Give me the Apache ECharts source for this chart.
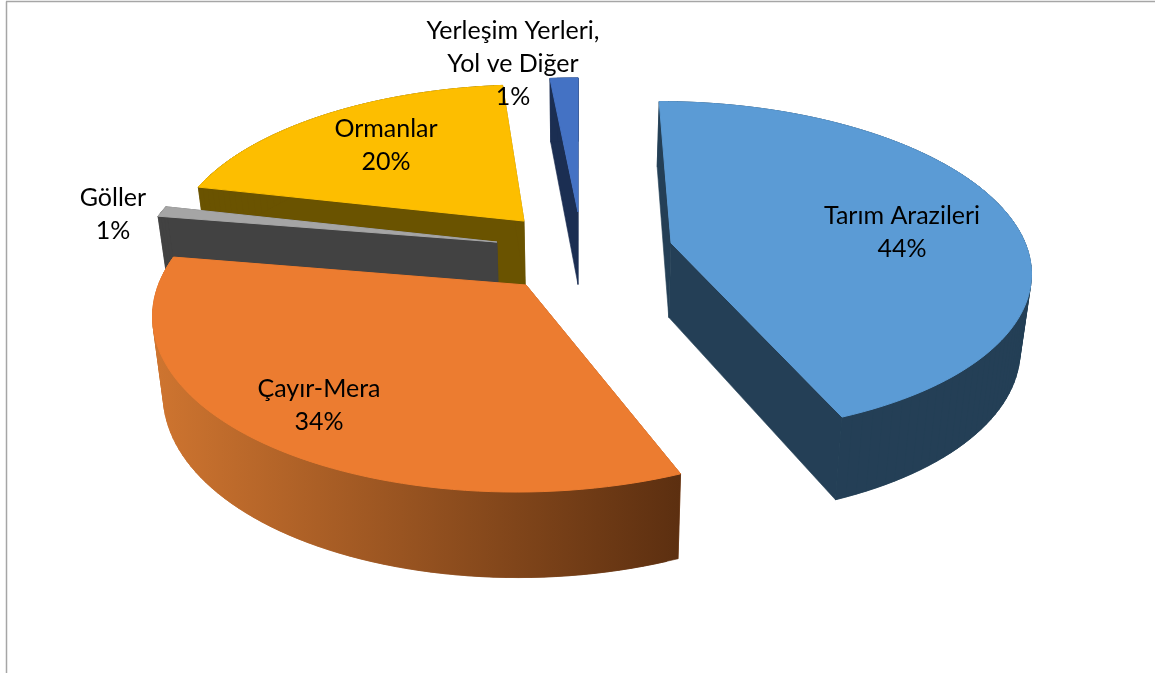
<!DOCTYPE html>
<html>
<head>
<meta charset="utf-8">
<style>
    html, body { margin: 0; padding: 0; background: #fff; }
    #main { width: 1155px; height: 673px; }
</style>
</head>
<body>
<div id="main"></div>
<script src="https://cdn.jsdelivr.net/npm/echarts@6/dist/echarts.min.js"></script>
<script>
    // data
    var categories = ['Tarım Arazileri', 'Çayır-Mera', 'Göller', 'Ormanlar', 'Yerleşim Yerleri,\nYol ve Diğer'];
    var values = [44, 34, 1, 20, 1.5];

    // look of each slice
    var topColors = ['#5b9bd5', '#ec7c30', '#a5a5a5', '#fdbe00', '#4472c4'];
    var sideColors = ['#243f56', '#8f4b1d', '#424242', '#6a5300', '#1b2e52'];
    var paintOrder = [4, 3, 2, 0, 1];
    // how far each slice is pulled out, and where its label sits, on the pie's own plane
    var explode = [[0.26, -0.073], [-0.144, 0.176], [-0.232, -0.079], [-0.1585, -0.211], [-0.003, -0.27]];
    var labelAt = [[0.9215, -0.1415], [-0.6395, 0.796], [-1.352, -0.2565], [-0.5986, -0.736], [-0.223, -1.395]];

    // camera for the 3D look
    var CX = 579, CY = 255, R = 358, K = 0.4637, P = 0.15;

    function project(x, y, z) {
        var s = 1 / (1 - P * y);
        return [
            CX + R * x * s * (1 - 0.025 * z),
            CY + R * K * y * s + z * (75 + 9 * y)
        ];
    }

    var total = values.reduce(function (a, b) { return a + b; }, 0);
    var starts = [];
    values.reduce(function (sum, v, i) {
        starts[i] = sum / total * Math.PI * 2;
        return sum + v;
    }, 0);

    function rimPoint(i, a, z) {
        return project(explode[i][0] + Math.sin(a), explode[i][1] - Math.cos(a), z);
    }

    function arc(i, a0, a1, z) {
        var n = Math.max(2, Math.ceil((a1 - a0) / 0.03));
        var pts = [];
        for (var k = 0; k <= n; k++) {
            pts.push(rimPoint(i, a0 + (a1 - a0) * k / n, z));
        }
        return pts;
    }

    function renderItem(params, api) {
        var i = api.value(0);
        var a0 = starts[i];
        var a1 = a0 + api.value(1) / total * Math.PI * 2;
        var order = paintOrder.indexOf(i) * 10;
        var apex = project(explode[i][0], explode[i][1], 0);
        var apexLow = project(explode[i][0], explode[i][1], 1);
        var upper = arc(i, a0, a1, 0);
        var lower = arc(i, a0, a1, 1);

        var sideFill = sideColors[i];
        if (i === 1) {
            // the front of this slice gets darker to the right
            var xs = upper.concat(lower).map(function (p) { return p[0]; });
            sideFill = new echarts.graphic.LinearGradient(Math.min.apply(null, xs), 0, Math.max.apply(null, xs), 0, [
                { offset: 0, color: '#cf7530' },
                { offset: 1, color: '#5c2f10' }
            ], true);
        }

        // a thin stroke in the fill colour closes the seams between neighbouring faces
        function poly(points, fill, z2, width) {
            return {
                type: 'polygon',
                z2: order + z2,
                shape: { points: points },
                style: { fill: fill, stroke: fill, lineWidth: width }
            };
        }

        var children = [
            poly([apex, rimPoint(i, a0, 0), rimPoint(i, a0, 1), apexLow], sideColors[i], 0, 0.6),
            poly([apex, rimPoint(i, a1, 0), rimPoint(i, a1, 1), apexLow], sideColors[i], 1, 0.6)
        ];
        // outer wall in overlapping strips so its edge runs straight between the two rims
        for (var k = 0; k < upper.length - 1; k++) {
            var next = Math.min(k + 2, upper.length - 1);
            children.push(poly([upper[k], upper[next], lower[next], lower[k]], sideFill, 2, 0.6));
        }
        children.push(poly([apex].concat(upper), topColors[i], 3, 1));

        var pos = project(labelAt[i][0], labelAt[i][1], 0);
        var pct = Math.round(api.value(1) / total * 100) + '%';
        children.push({
            type: 'text',
            z2: 200,
            x: pos[0],
            y: pos[1],
            style: {
                text: categories[i] + '\n' + pct,
                fontFamily: 'Lato',
                fontSize: 25,
                lineHeight: 33,
                fill: '#000',
                align: 'center',
                verticalAlign: 'middle'
            }
        });

        return { type: 'group', children: children };
    }

    var chart = echarts.init(document.getElementById('main'));
    chart.setOption({
        animation: false,
        backgroundColor: '#fff',
        graphic: [
            { type: 'line', shape: { x1: 6.5, y1: 1.5, x2: 6.5, y2: 673 }, style: { stroke: '#a6a6a6', lineWidth: 1.5 } },
            { type: 'line', shape: { x1: 6, y1: 1.5, x2: 1155, y2: 1.5 }, style: { stroke: '#a6a6a6', lineWidth: 1.5 } }
        ],
        series: [{
            type: 'custom',
            coordinateSystem: 'none',
            silent: true,
            renderItem: renderItem,
            data: values.map(function (v, i) { return [i, v]; })
        }]
    });
</script>
</body>
</html>
